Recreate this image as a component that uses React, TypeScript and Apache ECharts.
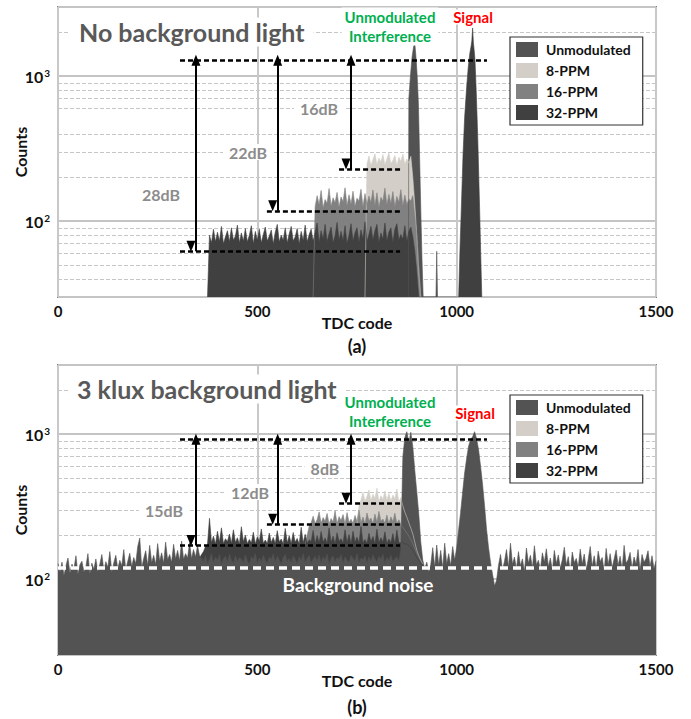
import React, { useEffect, useRef } from 'react';
import * as echarts from 'echarts';

const FONT = 'Lato, "Noto Sans", sans-serif';
const STEP = 5;

const SERIES_NAMES = ['Unmodulated', '8-PPM', '16-PPM', '32-PPM'];
const SERIES_COLORS = ['#535353', '#d3cfc8', '#818181', '#404040'];

// ---------- Panel (a): no background light ----------
const TOP_32_START = 375;
const top32Plateau = [30,
  80, 71, 88, 72, 84, 73, 92, 70, 78, 86,
  72, 90, 74, 79, 94, 71, 83, 73, 89, 72,
  80, 93, 70, 85, 74, 88, 71, 81, 91, 73,
  79, 87, 70, 84, 95, 72, 80, 74, 90, 71,
  82, 92, 73, 78, 89, 70, 85, 74, 94, 72,
  81, 88, 73, 84, 97, 71, 86, 75, 95, 72,
  82, 91, 71, 79, 98, 74, 85, 73, 93, 70,
  80, 96, 73, 83, 90, 71, 87, 75, 99, 72,
  81, 92, 74, 86, 95, 71, 83, 75, 97, 73,
  84, 90, 71, 88, 96, 74, 81, 75, 93, 72,
  85, 91, 78,
  62, 45, 30];
const top32Signal: [number, number][] = [
  [1005, 30], [1008, 60], [1012, 130], [1016, 290], [1020, 520], [1025, 840], [1029, 1150],
  [1033, 1440], [1036, 1600], [1038, 1750], [1040, 2150], [1042, 1700], [1044, 1500],
  [1046, 1290], [1049, 800], [1052, 450], [1054, 290], [1057, 140], [1060, 65], [1063, 30]];

const TOP_16_START = 640;
const top16Plateau = [30,
  126, 150, 130, 163, 124, 141, 133, 168, 127, 145,
  134, 158, 125, 147, 136, 170, 128, 152, 131, 161,
  127, 144, 138, 166, 126, 155, 130, 149, 134, 164,
  128, 157, 124, 146, 137, 169, 129, 153, 132, 160,
  126, 148, 135, 165, 127, 151, 130, 142,
  138, 150,
  110, 80, 50, 30];

const TOP_8_START = 770;
const top8Plateau = [30,
  248, 281, 242, 266, 292, 246, 272, 256, 288, 244,
  270, 295, 250, 262, 284, 241, 276, 258, 290, 247,
  268, 252, 280,
  200, 130, 80, 45, 30];

const topUnmodPeaks: [number, number][] = [
  [879, 30], [880, 700], [884, 1000], [888, 1350], [892, 1600], [895, 1680], [898, 1350],
  [901, 1000], [904, 650], [907, 280], [910, 120], [913, 55], [916, 30],
  [948, 30], [950, 62], [952, 30]];

// annotation levels: [x0, x1, y] and arrows [x, yTop, yBottom]
const topDashLines = [[306, 1076, 1289], [306, 858, 62], [524, 858, 118], [705, 858, 229]];
const topArrows = [[346, 1289, 62], [551, 1289, 118], [735, 1289, 229]];
const topMinorGrid = [40, 50, 60, 70, 80, 90, 200, 300, 400, 600, 700, 800, 900, 2000];

// ---------- Panel (b): 3 klux background light ----------
const BOT_UNMOD_START = 0;
const botUnmod = [
  128, 112, 131, 106, 124, 140, 110, 127, 118, 145, 108, 126, 133, 112, 122, 150, 109, 129, 117, 138, 113,
  127, 148, 115, 132, 121, 155, 112, 130, 146, 118, 135, 124, 160, 116, 133, 151, 122, 141, 128, 168,
  192, 120, 139, 157, 124, 171, 130, 146, 126, 176, 133, 152, 129, 180, 136, 148, 131, 174, 138, 158,
  134, 183, 137, 150, 140, 178, 139, 160, 142, 170, 145,
  140, 132, 146, 128, 138, 150, 130, 142, 135, 148,
  127, 139, 144, 131, 149, 136, 129, 145, 133, 141,
  138, 130, 147, 134, 126, 143, 137, 150, 128, 140,
  132, 146, 135, 129, 142, 138, 149, 131, 144, 136,
  127, 141, 148, 133, 139, 130, 145, 137, 128, 143,
  135, 150, 131, 140, 146, 129, 138, 144, 133, 147,
  130, 142, 136, 149, 127, 139, 145, 132, 141, 137,
  148, 128, 143, 135, 131, 146, 139, 134, 150, 130,
  140, 136, 145, 129, 142, 133, 147, 138, 131, 144,
  137, 149, 128, 141, 135, 146, 132, 139, 143, 134,
  160, 700, 950, 1040, 880, 1030, 820, 560, 400, 280, 180, 135,
  118, 131, 112, 126, 165, 121, 172, 125, 158, 119, 177, 128, 150, 124, 168,
  135, 165, 220, 290, 400, 540, 680, 830, 920, 960, 1040, 930, 780, 600, 450, 320, 220, 165, 130, 108, 90, 98,
  125, 148, 116, 133, 160, 121, 177, 127, 142, 118,
  155, 124, 138, 113, 164, 129, 146, 120, 170, 126,
  135, 117, 152, 131, 162, 122, 140, 115, 158, 128,
  147, 119, 136, 166, 125, 143, 112, 154, 130, 139,
  121, 161, 127, 149, 116, 137, 168, 123, 145, 118,
  156, 132, 141, 114, 163, 126, 150, 120, 138, 159,
  124, 144, 117, 171, 129, 136, 153, 119, 142, 127,
  160, 115, 148, 131, 139, 157, 122, 145, 118, 134];

const BOT_32_START = 355;
const bot32Plateau = [140, 148, 155, 168, 174,
  263, 178, 198, 175, 214, 180, 226, 176, 190, 182,
  205, 177, 219, 179, 193, 175, 230, 181, 201, 176,
  188, 178, 211, 175, 196, 183, 222, 177, 186, 176,
  208, 179, 194, 176, 216, 181, 189, 175, 224, 178,
  199, 176, 210, 180, 191, 175, 228, 178, 204, 177,
  187, 182, 217, 175, 200, 178, 213, 180, 192, 176,
  225, 179, 198, 175, 209, 182, 190, 177, 219, 178,
  203, 175, 214, 180, 195, 177, 231, 178, 188, 176,
  207, 181, 197, 175, 221, 178, 193, 180, 212, 176,
  189, 178, 206, 175, 218, 178,
  178, 181, 174, 176, 170, 165, 158, 150, 142, 135, 128, 124];

const BOT_16_START = 620;
const bot16Plateau = [175, 200, 232,
  245, 272, 241, 258, 291, 244, 266, 251, 284, 240,
  262, 248, 296, 242, 270, 254, 279, 240, 288, 246,
  259, 243, 275, 250, 300, 244, 268, 241, 286, 253,
  264, 241, 281, 247, 293, 251, 260, 243, 277, 240,
  269, 249, 285, 242, 257, 238,
  228, 218, 208, 198, 188, 176, 164, 152, 142, 134, 127];

const BOT_8_START = 750;
const bot8Plateau = [240, 320,
  352, 398, 345, 371, 412, 348, 385, 360, 424, 343, 376, 355, 405, 350, 390, 346, 380, 358, 418, 341, 366,
  320, 290, 268, 245, 225, 205, 180, 158, 145, 135, 128];

const botDashLines = [[306, 1076, 923], [306, 858, 171], [524, 858, 239], [705, 858, 334]];
const botArrows = [[346, 923, 171], [551, 923, 239], [735, 923, 334]];
const botNoiseLine = [0, 1500, 119];
const botMinorGrid = [40, 50, 60, 70, 80, 90, 200, 300, 400, 500, 600, 700, 800, 900, 2000];

const X_TICKS = { min: 0, max: 1500, interval: 500 };
const Y_RANGE = { min: 30, max: 3000 };

function seq(start: number, values: number[]): [number, number][] {
  return values.map((v, i) => [start + i * STEP, v]);
}

function buildPanel(p: number, d: {
  unmod: [number, number][]; ppm8: [number, number][]; ppm16: [number, number][]; ppm32: [number, number][];
  minor: number[]; dash: number[][]; arrows: number[][]; noise?: number[]; unmodFront?: boolean;
}) {
  const base = (name: string, idx: number, data: [number, number][]) => ({
    type: 'line', name, data, xAxisIndex: p, yAxisIndex: p,
    symbol: 'none', showSymbol: false, silent: true, z: 2,
    lineStyle: { width: 0.6, color: SERIES_COLORS[idx] },
    itemStyle: { color: SERIES_COLORS[idx] },
    areaStyle: { color: SERIES_COLORS[idx], opacity: 1, origin: 'start' },
    emphasis: { disabled: true },
  });
  const gridSeries = {
    type: 'line', name: '_grid' + p, data: [], xAxisIndex: p, yAxisIndex: p, silent: true, z: 1,
    markLine: {
      silent: true, z: 1, symbol: ['none', 'none'], label: { show: false }, emphasis: { disabled: true },
      lineStyle: { color: '#c6c6c6', width: 1, type: [4, 2] },
      data: d.minor.map((v) => ({ yAxis: v })),
    },
  };
  const unmod: any = base('Unmodulated', 0, d.unmod);
  if (d.noise) {
    unmod.markLine = {
      silent: true, z: 6, symbol: ['none', 'none'], label: { show: false }, emphasis: { disabled: true },
      lineStyle: { color: '#ffffff', width: 3.5, type: [8, 5] },
      data: [[{ coord: [d.noise[0], d.noise[2]] }, { coord: [d.noise[1], d.noise[2]] }]],
    };
  }
  const s16: any = base('16-PPM', 2, d.ppm16);
  s16.markLine = {
    silent: true, z: 7, symbol: ['none', 'none'], label: { show: false }, emphasis: { disabled: true },
    lineStyle: { color: '#000000', width: 2.5, type: [5, 3] },
    data: d.dash.map((l) => [{ coord: [l[0], l[2]] }, { coord: [l[1], l[2]] }]),
  };
  const s32: any = base('32-PPM', 3, d.ppm32);
  s32.markLine = {
    silent: true, z: 8, symbol: ['triangle', 'triangle'], symbolSize: [9, 11], symbolOffset: [0, 5],
    label: { show: false }, emphasis: { disabled: true },
    lineStyle: { color: '#000000', width: 2, type: 'solid' },
    data: d.arrows.map((a) => [{ coord: [a[0], a[1]] }, { coord: [a[0], a[2]] }]),
  };
  const s8 = base('8-PPM', 1, d.ppm8);
  return d.unmodFront ? [gridSeries, s8, s16, s32, unmod] : [gridSeries, unmod, s8, s16, s32];
}

function txt(text: string, x: number, y: number, o: any = {}) {
  return {
    type: 'text', x, y, z: 100, silent: true,
    style: {
      text, fontFamily: FONT, fontWeight: 'bold', fontSize: o.size || 15, fill: o.color || '#111',
      align: o.align || 'center', verticalAlign: 'middle',
      backgroundColor: o.bg, padding: o.padding, lineHeight: o.lineHeight,
    },
  };
}

export default function App() {
  const ref = useRef<HTMLDivElement>(null);
  useEffect(() => {
    document.body.style.margin = '0';
    const chart = echarts.init(ref.current!, null, { renderer: 'svg' });
    const tops = [7, 365];
    const option: any = {
      animation: false,
      textStyle: { fontFamily: FONT },
      grid: tops.map((t) => ({
        left: 58, top: t, width: 598, height: 290, show: true, containLabel: false,
        outerBoundsMode: 'none',
        borderColor: '#262626', borderWidth: 1.5, backgroundColor: 'transparent',
      })),
      xAxis: tops.map((_, i) => ({
        type: 'value', gridIndex: i, ...X_TICKS,
        axisLine: { show: false }, axisTick: { show: false },
        axisLabel: {
          fontSize: 15, fontWeight: 'bold', color: '#111', fontFamily: FONT, margin: 6,
          formatter: (v: number) => String(v),
        },
        splitLine: { show: true, lineStyle: { color: '#c8c8c8', width: 2 } },
        name: 'TDC code', nameLocation: 'middle', nameGap: 17, nameMoveOverlap: false,
        nameTextStyle: { fontSize: 16, fontWeight: 'bold', color: '#111', fontFamily: FONT },
      })),
      yAxis: tops.map((_, i) => ({
        type: 'log', logBase: 10, gridIndex: i, ...Y_RANGE,
        axisLine: { show: false }, axisTick: { show: false },
        splitLine: { show: true, lineStyle: { color: '#c4c4c4', width: 2 } },
        axisLabel: {
          margin: 8,
          formatter: (v: number) => {
            const e = Math.round(Math.log10(v));
            if ((e === 2 || e === 3) && Math.abs(v - Math.pow(10, e)) / v < 0.01) return `{b|10}{s|${e}}`;
            return '';
          },
          rich: {
            b: { fontSize: 16, fontWeight: 'bold', color: '#111', fontFamily: FONT },
            s: { fontSize: 10, fontWeight: 'bold', color: '#111', fontFamily: FONT, verticalAlign: 'top', padding: [0, 0, 6, 1] },
          },
        },
        name: 'Counts', nameLocation: 'middle', nameGap: 30, nameMoveOverlap: false,
        nameTextStyle: { fontSize: 16, fontWeight: 'bold', color: '#111', fontFamily: FONT },
      })),
      legend: [37, 395].map((t) => ({
        left: 510, top: t, orient: 'vertical', selectedMode: false,
        data: SERIES_NAMES.map((n) => ({ name: n, icon: 'rect' })),
        itemWidth: 22, itemHeight: 15, itemGap: 6, padding: [5, 12, 5, 6],
        backgroundColor: '#ffffff', borderColor: '#333333', borderWidth: 1.2,
        itemStyle: { borderWidth: 0 },
        textStyle: { fontSize: 14, fontWeight: 'bold', color: '#111', fontFamily: FONT, padding: [0, 0, 0, 3] },
      })),
      series: [
        ...buildPanel(0, {
          unmod: topUnmodPeaks,
          ppm8: seq(TOP_8_START, top8Plateau),
          ppm16: seq(TOP_16_START, top16Plateau),
          ppm32: [...seq(TOP_32_START, top32Plateau), ...top32Signal],
          minor: topMinorGrid, dash: topDashLines, arrows: topArrows,
        }),
        ...buildPanel(1, {
          unmod: seq(BOT_UNMOD_START, botUnmod),
          ppm8: seq(BOT_8_START, bot8Plateau),
          ppm16: seq(BOT_16_START, bot16Plateau),
          ppm32: seq(BOT_32_START, bot32Plateau),
          minor: botMinorGrid, dash: botDashLines, arrows: botArrows, noise: botNoiseLine,
          unmodFront: true,
        }),
      ],
      graphic: [
        txt('No background light', 70, 32, { size: 25, color: '#595959', align: 'left', bg: '#fff', padding: [2, 9] }),
        txt('Unmodulated\nInterference', 390, 26.5, { color: '#00b050', bg: '#fff', lineHeight: 19, padding: [0, 3] }),
        txt('Signal', 473, 17, { color: '#ff0000', bg: '#fff', padding: [0, 3] }),
        txt('16dB', 319, 108, { size: 16, color: '#8c8c8c', bg: '#fff', padding: [0, 6] }),
        txt('22dB', 248, 152, { size: 16, color: '#8c8c8c', bg: '#fff', padding: [0, 6] }),
        txt('28dB', 161, 194, { size: 16, color: '#8c8c8c', bg: '#fff', padding: [0, 6] }),
        txt('(a)', 357, 346, { size: 18 }),
        txt('3 klux background light', 68, 389, { size: 25, color: '#595959', align: 'left', bg: '#fff', padding: [2, 9] }),
        txt('Unmodulated\nInterference', 390, 411.5, { color: '#00b050', bg: '#fff', lineHeight: 19, padding: [0, 3] }),
        txt('Signal', 475, 413, { color: '#ff0000', bg: '#fff', padding: [0, 3] }),
        txt('8dB', 325, 468, { size: 16, color: '#8c8c8c', bg: '#fff', padding: [0, 6] }),
        txt('12dB', 250, 492, { size: 16, color: '#8c8c8c', bg: '#fff', padding: [0, 6] }),
        txt('15dB', 164, 510, { size: 16, color: '#8c8c8c', bg: '#fff', padding: [0, 6] }),
        txt('Background noise', 358, 584, { size: 19, color: '#ffffff' }),
        txt('(b)', 357, 707, { size: 18 }),
      ],
    };
    chart.setOption(option);
    return () => chart.dispose();
  }, []);
  return <div ref={ref} style={{ width: 691, height: 719 }} />;
}
